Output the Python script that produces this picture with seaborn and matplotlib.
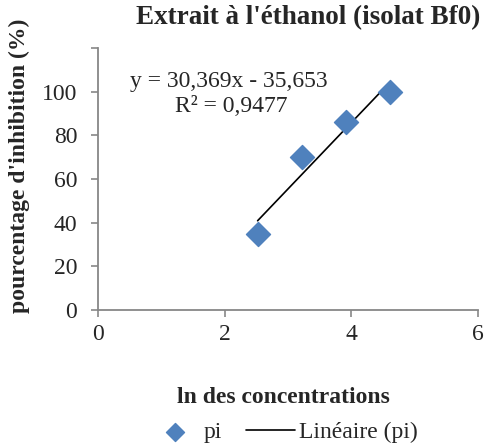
import matplotlib
matplotlib.use("Agg")
import matplotlib.pyplot as plt
import seaborn as sns
import numpy as np
import pandas as pd

ln_conc = [2.52, 3.22, 3.91, 4.61]
pi_values = [35, 70, 86, 100]
slope = 30.369
intercept = -35.653
r2_text = "R² = 0,9477"
eq_text = "y = 30,369x - 35,653"
title = "Extrait à l'éthanol (isolat Bf0)"
xlabel = "ln des concentrations"
ylabel = "pourcentage d'inhibition (%)"
xticks = [0, 2, 4, 6]
yticks = [0, 20, 40, 60, 80, 100, 120]
ytick_labels = ["0", "20", "40", "60", "80", "100", ""]

sns.set_theme(style="white")
plt.rcParams['font.family'] = ['Liberation Serif', 'DejaVu Serif']

df = pd.DataFrame({"x": ln_conc, "y": pi_values})
xs = np.array([min(ln_conc), max(ln_conc)])
trend = pd.DataFrame({"x": xs, "y": slope * xs + intercept})

fig = plt.figure(figsize=(4.89, 4.48), dpi=100)
ax = fig.add_axes([98/489, 1-310/448, (478-98)/489, (310-48)/448])

sns.lineplot(data=trend, x="x", y="y", ax=ax, color="black", linewidth=1.2, label="Linéaire (pi)", legend=False)
sns.scatterplot(data=df, x="x", y="y", ax=ax, marker="D", s=150, color="#4F81BD", edgecolor="#4F81BD", label="pi", legend=False, zorder=3)

ax.set_xlim(0, 6)
ax.set_ylim(0, 120)
ax.set_xticks(xticks)
ax.set_yticks(yticks)
ax.set_yticklabels(ytick_labels)
ax.tick_params(axis="both", direction="out", length=5, width=1.2, color="#878787", labelsize=17, bottom=True, left=True)
ax.tick_params(axis="y", pad=10)
ax.tick_params(axis="x", pad=5)
for s in ["top", "right"]:
    ax.spines[s].set_visible(False)
for s in ["left", "bottom"]:
    ax.spines[s].set_color("#878787")
    ax.spines[s].set_linewidth(1.3)
ax.set_xlabel("")
ax.set_ylabel("")

fig.text(308/489, 1-18/448, title, ha="center", va="center", fontsize=19.5, fontweight="bold")
fig.text(283/489, 1-397/448, xlabel, ha="center", va="center", fontsize=17, fontweight="bold")
fig.text(19/489, 1-166/448, ylabel, ha="center", va="center", rotation=90, fontsize=17, fontweight="bold")
fig.text(130/489, 1-81/448, eq_text, ha="left", va="center", fontsize=17)
fig.text(175/489, 1-107/448, r2_text, ha="left", va="center", fontsize=17)

handles, labels = ax.get_legend_handles_labels()
order = [labels.index("pi"), labels.index("Linéaire (pi)")]
fig.legend([handles[i] for i in order], [labels[i] for i in order], loc="center", bbox_to_anchor=(284/489, 1-432/448),
           ncol=2, frameon=False, fontsize=17, handlelength=2.1, columnspacing=1.0, handletextpad=0.15, markerscale=0.75)

fig.savefig("out.png", dpi=100)
